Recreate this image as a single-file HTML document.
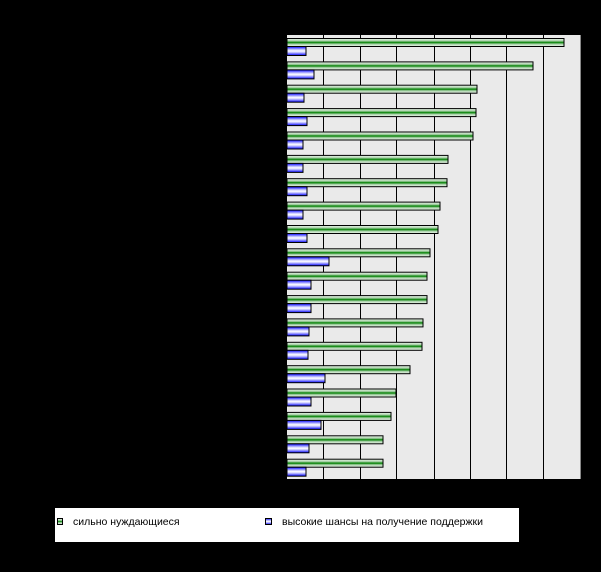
<!DOCTYPE html>
<html><head><meta charset="utf-8"><style>body{margin:0;background:#000}svg{display:block}</style></head><body>
<svg width="601" height="572" xmlns="http://www.w3.org/2000/svg">
<defs>
<linearGradient id="g" x1="0" y1="0" x2="0" y2="1">
<stop offset="0" stop-color="#f0f8f0"/><stop offset="0.3" stop-color="#a8d0a8"/><stop offset="0.5" stop-color="#008000"/><stop offset="0.7" stop-color="#a8d0a8"/><stop offset="1" stop-color="#f0f8f0"/></linearGradient>
<linearGradient id="b" x1="0" y1="0" x2="0" y2="1">
<stop offset="0" stop-color="#0000ff"/><stop offset="0.35" stop-color="#c8c8ff"/><stop offset="0.5" stop-color="#ffffff"/><stop offset="0.65" stop-color="#c8c8ff"/><stop offset="1" stop-color="#0000ff"/></linearGradient>
</defs>
<rect width="601" height="572" fill="#000"/>
<rect x="287" y="35" width="293" height="444" fill="#eaeaea"/>
<g stroke="#000" stroke-width="1">
<line x1="323.5" y1="35" x2="323.5" y2="479"/><line x1="360.5" y1="35" x2="360.5" y2="479"/><line x1="396.5" y1="35" x2="396.5" y2="479"/><line x1="434.5" y1="35" x2="434.5" y2="479"/><line x1="470.5" y1="35" x2="470.5" y2="479"/><line x1="506.5" y1="35" x2="506.5" y2="479"/><line x1="543.5" y1="35" x2="543.5" y2="479"/>
</g>
<line x1="580.5" y1="35" x2="580.5" y2="479" stroke="#888"/>
<g stroke="#000" stroke-width="1">
<rect x="287" y="38.5" width="277" height="8" fill="url(#g)"/><rect x="287" y="46.5" width="19" height="9" fill="url(#b)"/>
<rect x="287" y="61.9" width="246" height="8" fill="url(#g)"/><rect x="287" y="69.9" width="27" height="9" fill="url(#b)"/>
<rect x="287" y="85.2" width="190" height="8" fill="url(#g)"/><rect x="287" y="93.2" width="17" height="9" fill="url(#b)"/>
<rect x="287" y="108.6" width="189" height="8" fill="url(#g)"/><rect x="287" y="116.6" width="20" height="9" fill="url(#b)"/>
<rect x="287" y="132" width="186" height="8" fill="url(#g)"/><rect x="287" y="140" width="16" height="9" fill="url(#b)"/>
<rect x="287" y="155.4" width="161" height="8" fill="url(#g)"/><rect x="287" y="163.4" width="16" height="9" fill="url(#b)"/>
<rect x="287" y="178.7" width="160" height="8" fill="url(#g)"/><rect x="287" y="186.7" width="20" height="9" fill="url(#b)"/>
<rect x="287" y="202.1" width="153" height="8" fill="url(#g)"/><rect x="287" y="210.1" width="16" height="9" fill="url(#b)"/>
<rect x="287" y="225.5" width="151" height="8" fill="url(#g)"/><rect x="287" y="233.5" width="20" height="9" fill="url(#b)"/>
<rect x="287" y="248.8" width="143" height="8" fill="url(#g)"/><rect x="287" y="256.8" width="42" height="9" fill="url(#b)"/>
<rect x="287" y="272.2" width="140" height="8" fill="url(#g)"/><rect x="287" y="280.2" width="24" height="9" fill="url(#b)"/>
<rect x="287" y="295.6" width="140" height="8" fill="url(#g)"/><rect x="287" y="303.6" width="24" height="9" fill="url(#b)"/>
<rect x="287" y="318.9" width="136" height="8" fill="url(#g)"/><rect x="287" y="326.9" width="22" height="9" fill="url(#b)"/>
<rect x="287" y="342.3" width="135" height="8" fill="url(#g)"/><rect x="287" y="350.3" width="21" height="9" fill="url(#b)"/>
<rect x="287" y="365.7" width="123" height="8" fill="url(#g)"/><rect x="287" y="373.7" width="38" height="9" fill="url(#b)"/>
<rect x="287" y="389" width="109" height="8" fill="url(#g)"/><rect x="287" y="397" width="24" height="9" fill="url(#b)"/>
<rect x="287" y="412.4" width="104" height="8" fill="url(#g)"/><rect x="287" y="420.4" width="34" height="9" fill="url(#b)"/>
<rect x="287" y="435.8" width="96" height="8" fill="url(#g)"/><rect x="287" y="443.8" width="22" height="9" fill="url(#b)"/>
<rect x="287" y="459.2" width="96" height="8" fill="url(#g)"/><rect x="287" y="467.2" width="19" height="9" fill="url(#b)"/>
</g>
<rect x="55" y="508" width="464" height="34" fill="#fff"/>
<rect x="57.5" y="518.5" width="5" height="6" fill="url(#g)" stroke="#000"/>
<rect x="265.5" y="518.5" width="6" height="6" fill="url(#b)" stroke="#000"/>
<g font-family="Liberation Sans, DejaVu Sans, sans-serif" font-size="10.5" fill="#000">
<text x="73" y="525">сильно нуждающиеся</text>
<text x="282" y="525">высокие шансы на получение поддержки</text>
</g>
</svg>
</body></html>
